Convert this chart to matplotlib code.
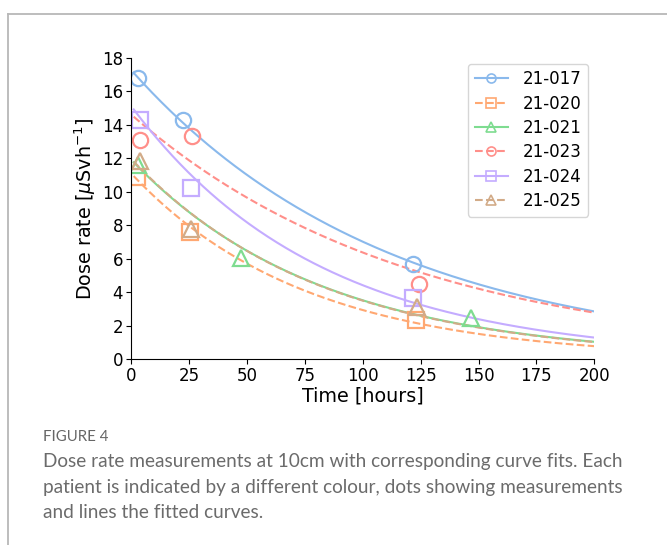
import numpy as np
import matplotlib.pyplot as plt
from matplotlib.lines import Line2D

# patients and their plotting style
patients = ['21-017', '21-020', '21-021', '21-023', '21-024', '21-025']
colors = ['#8ab9ec', '#ffa872', '#7edc90', '#ff8f8a', '#c4acff', '#d2ab88']
markers = ['o', 's', '^', 'o', 's', '^']
styles = ['-', '--', '-', '--', '-', '--']

# measured dose rates (time in hours, dose rate in uSv/h)
meas_t = [
    [3, 22.2, 121.5],
    [2.4, 25.2, 123],
    [3, 47.2, 146.6],
    [3.6, 26.2, 124.1],
    [3.6, 25.9, 121.5],
    [3.6, 25.9, 123.4],
]
meas_d = [
    [16.8, 14.3, 5.68],
    [10.87, 7.58, 2.33],
    [11.6, 6.02, 2.43],
    [13.1, 13.35, 4.47],
    [14.3, 10.2, 3.63],
    [11.86, 7.76, 3.13],
]

# fitted mono-exponential parameters, D(t) = a0 * exp(-k t)
fit_a0 = [17.25, 11.08, 11.9, 14.6, 15.1, 11.95]
fit_k = [0.0090, 0.0133, 0.0122, 0.0083, 0.0123, 0.0123]

t_fit = np.linspace(1, 200, 300)

fig = plt.figure(figsize=(6.67, 5.45), dpi=100)
ax = fig.add_axes([0.197, 0.341, 0.694, 0.553])

for i in range(len(patients)):
    ax.plot(t_fit, fit_a0[i] * np.exp(-fit_k[i] * t_fit), color=colors[i],
            ls=styles[i], lw=1.5)
for i in range(len(patients)):
    ax.plot(meas_t[i], meas_d[i], ls='none', marker=markers[i], ms=11,
            mfc='none', mec=colors[i], mew=1.6)

ax.set_xlim(0, 200)
ax.set_ylim(0, 18)
ax.set_xticks(np.arange(0, 201, 25))
ax.set_yticks(np.arange(0, 19, 2))
ax.spines['top'].set_visible(False)
ax.spines['right'].set_visible(False)
ax.tick_params(labelsize=12, pad=2.5)
ax.set_xlabel('Time [hours]', fontsize=13.8, labelpad=1)
ax.set_ylabel(r'Dose rate [$\mu$Svh$^{-1}$]', fontsize=13.8, labelpad=3)

handles = [Line2D([], [], color=colors[i], ls=styles[i], lw=1.5, marker=markers[i],
                  ms=6.5, mfc='none', mec=colors[i], mew=1.2) for i in range(len(patients))]
ax.legend(handles, patients, loc='upper right', fontsize=12, handlelength=2.0,
          borderaxespad=0.35, handletextpad=0.9, labelspacing=0.38)

# card border and caption
fig.add_artist(Line2D([0.012, 1.0], [0.974, 0.974], color='#b8b8b8', lw=1.3))
fig.add_artist(Line2D([0.012, 0.012], [0.0, 0.974], color='#b8b8b8', lw=1.3))

fig.text(0.064, 1 - 437 / 545, 'FIGURE 4', fontsize=10.8, color='#666666',
         family='Lato', va='center')
caption = ['Dose rate measurements at 10cm with corresponding curve fits. Each',
           'patient is indicated by a different colour, dots showing measurements',
           'and lines the fitted curves.']
for j, line in enumerate(caption):
    fig.text(0.064, 1 - (462 + 25 * j) / 545, line, fontsize=13.7, color='#6b6b6b',
             family='Lato', va='center')

fig.savefig('out.png', dpi=100)
